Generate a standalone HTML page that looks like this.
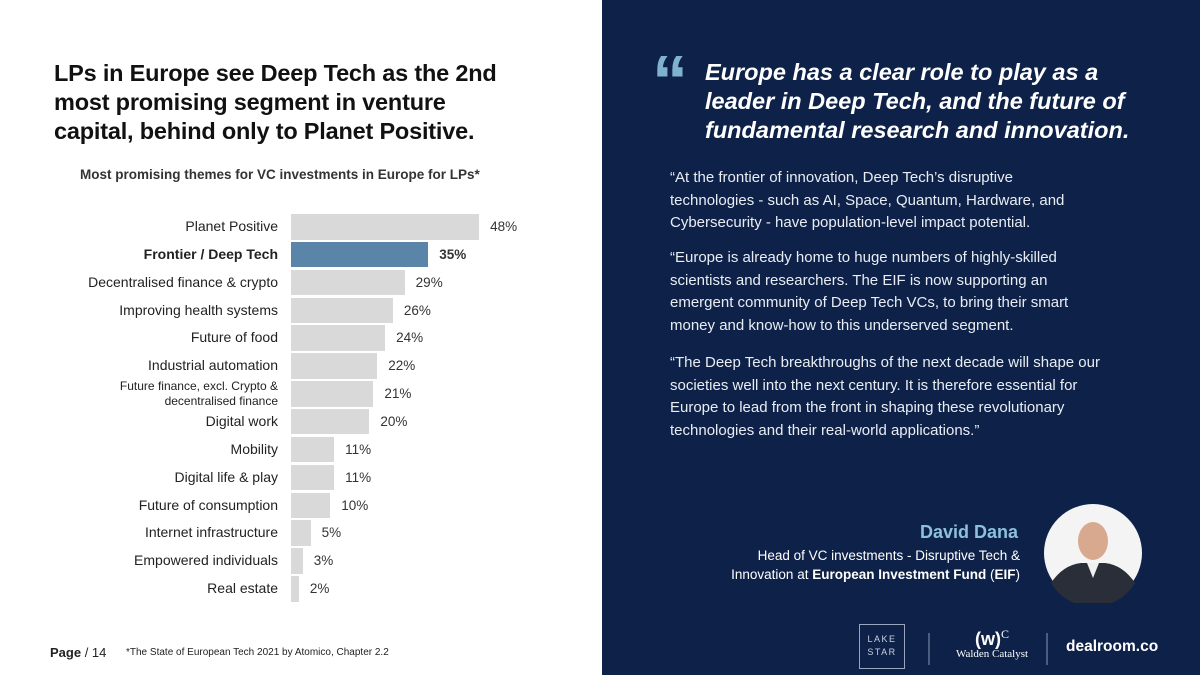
<!DOCTYPE html>
<html><head><meta charset="utf-8">
<style>
*{margin:0;padding:0;box-sizing:border-box}
body{width:1200px;height:675px;overflow:hidden;font-family:"Liberation Sans",sans-serif;background:#fff;position:relative}
.left{position:absolute;left:0;top:0;width:602px;height:675px;background:#fff}
.right{position:absolute;left:602px;top:0;width:598px;height:675px;background:#0e2249;color:#fff}
h1{position:absolute;left:54px;top:59px;font-size:23.5px;line-height:29px;font-weight:bold;color:#111;width:470px;letter-spacing:-0.2px}
.sub{position:absolute;left:80px;top:167px;font-size:13.5px;font-weight:bold;color:#333}
.lbl{position:absolute;right:922px;font-size:14px;color:#222;text-align:right;white-space:nowrap}
.val{position:absolute;font-size:13.5px;color:#333}
.bar{position:absolute;background:#d9d9d9}
.foot{position:absolute;top:645px;font-size:12px;color:#222}
.qmark{position:absolute;left:652px;top:46px;font-size:72px;font-weight:bold;color:#7fb2cf;font-family:"Liberation Sans",sans-serif;line-height:72px}
.quote{position:absolute;left:705px;top:58px;font-size:23.5px;line-height:29px;font-weight:bold;font-style:italic;width:440px;color:#fff}
.body p{position:absolute;left:670px;font-size:15px;line-height:22.5px;color:#e9edf3;width:410px}
</style></head><body>
<div class="left"></div>
<h1>LPs in Europe see Deep Tech as the 2nd most promising segment in venture capital, behind only to Planet Positive.</h1>
<div class="sub">Most promising themes for VC investments in Europe for LPs*</div>
<div id="chart"></div>
<div class="foot" style="left:50px;font-size:13px"><b>Page</b> / 14</div>
<div class="foot" style="left:126px;font-size:10px;top:647px">*The State of European Tech 2021 by Atomico, Chapter 2.2</div>

<div class="right"></div>
<div class="qmark">“</div>
<div class="quote">Europe has a clear role to play as a leader in Deep Tech, and the future of fundamental research and innovation.</div>
<div class="body">
<p style="top:167px">“At the frontier of innovation, Deep Tech’s disruptive technologies - such as AI, Space, Quantum, Hardware, and Cybersecurity - have population-level impact potential.</p>
<p style="top:247px">“Europe is already home to huge numbers of highly-skilled scientists and researchers. The EIF is now supporting an emergent community of Deep Tech VCs, to bring their smart money and know-how to this underserved segment.</p>
<p style="top:352px;width:440px">“The Deep Tech breakthroughs of the next decade will shape our societies well into the next century. It is therefore essential for Europe to lead from the front in shaping these revolutionary technologies and their real-world applications.”</p>
</div>
<div style="position:absolute;right:182px;top:522px;font-size:18px;font-weight:bold;color:#8cc0dc">David Dana</div>
<div style="position:absolute;right:180px;top:546px;font-size:13.5px;line-height:19px;text-align:right;color:#fff">Head of VC investments - Disruptive Tech &amp;<br>Innovation at <b>European Investment Fund</b> (<b>EIF</b>)</div>
<svg style="position:absolute;left:1043px;top:503px" width="100" height="100">
<circle cx="50" cy="50" r="49" fill="#f4f4f4"/>
<path d="M8,80 Q20,62 38,60 L62,60 Q80,62 92,80 A49,49 0 0 1 8,80Z" fill="#2a2e38"/>
<ellipse cx="50" cy="38" rx="15" ry="19" fill="#d8a98e"/>
<path d="M44,60 L50,75 L56,60Z" fill="#f0f0f0"/>
</svg>
<div style="position:absolute;left:859px;top:624px;width:46px;height:45px;border:1px solid #9aa6bd;color:#c8d0de;font-size:9px;letter-spacing:1.5px;text-align:center;line-height:13px;padding-top:8px">LAKE<br>STAR</div>
<div style="position:absolute;left:928px;top:633px;width:2px;height:32px;background:#4c5d80"></div>
<div style="position:absolute;left:952px;top:627px;width:80px;text-align:center;color:#fff"><div style="font-size:18px;font-weight:bold">(w)<sup style="font-size:12px;font-weight:normal;font-family:'Liberation Serif'">C</sup></div><div style="font-size:11px;font-family:'Liberation Serif',serif;margin-top:-2px">Walden Catalyst</div></div>
<div style="position:absolute;left:1046px;top:633px;width:2px;height:32px;background:#4c5d80"></div>
<div style="position:absolute;left:1066px;top:638px;font-size:15.5px;font-weight:bold;color:#fff">dealroom.co</div>

<script>
const categories=["Planet Positive","Frontier / Deep Tech","Decentralised finance & crypto","Improving health systems","Future of food","Industrial automation","Future finance, excl. Crypto &\ndecentralised finance","Digital work","Mobility","Digital life & play","Future of consumption","Internet infrastructure","Empowered individuals","Real estate"];
const values=[48,35,29,26,24,22,21,20,11,11,10,5,3,2];
const highlight=[false,true,false,false,false,false,false,false,false,false,false,false,false,false];
const chart=document.getElementById('chart');
const x0=291, pxPer=3.92, y0=214, step=27.85, bh=25.5;
function xs(v){return v*pxPer;}
function ys(i){return y0+i*step;}
categories.forEach((c,i)=>{
  const b=document.createElement('div');
  b.className='bar';
  
  
  b.style.left=x0+'px';b.style.top=ys(i)+'px';b.style.width=xs(values[i])+'px';b.style.height=bh+'px';
  if(highlight[i])b.style.background='#5a85a8';
  chart.appendChild(b);
  const l=document.createElement('div');
  l.className='lbl';
  
  
  if(c.includes('\n')){l.innerHTML=c.replace('&','&amp;').replace('\n','<br>');l.style.fontSize='12px';l.style.lineHeight='15px';l.style.top=(ys(i)-2)+'px';}
  else{l.textContent=c;l.style.top=(ys(i)+4)+'px';}
  if(highlight[i])l.style.fontWeight='bold';
  chart.appendChild(l);
  const v=document.createElement('div');
  v.className='val';
  
  
  v.textContent=values[i]+'%';
  v.style.left=(x0+xs(values[i])+11)+'px';v.style.top=(ys(i)+5)+'px';
  if(highlight[i])v.style.fontWeight='bold';
  chart.appendChild(v);
});
</script>
</body></html>
